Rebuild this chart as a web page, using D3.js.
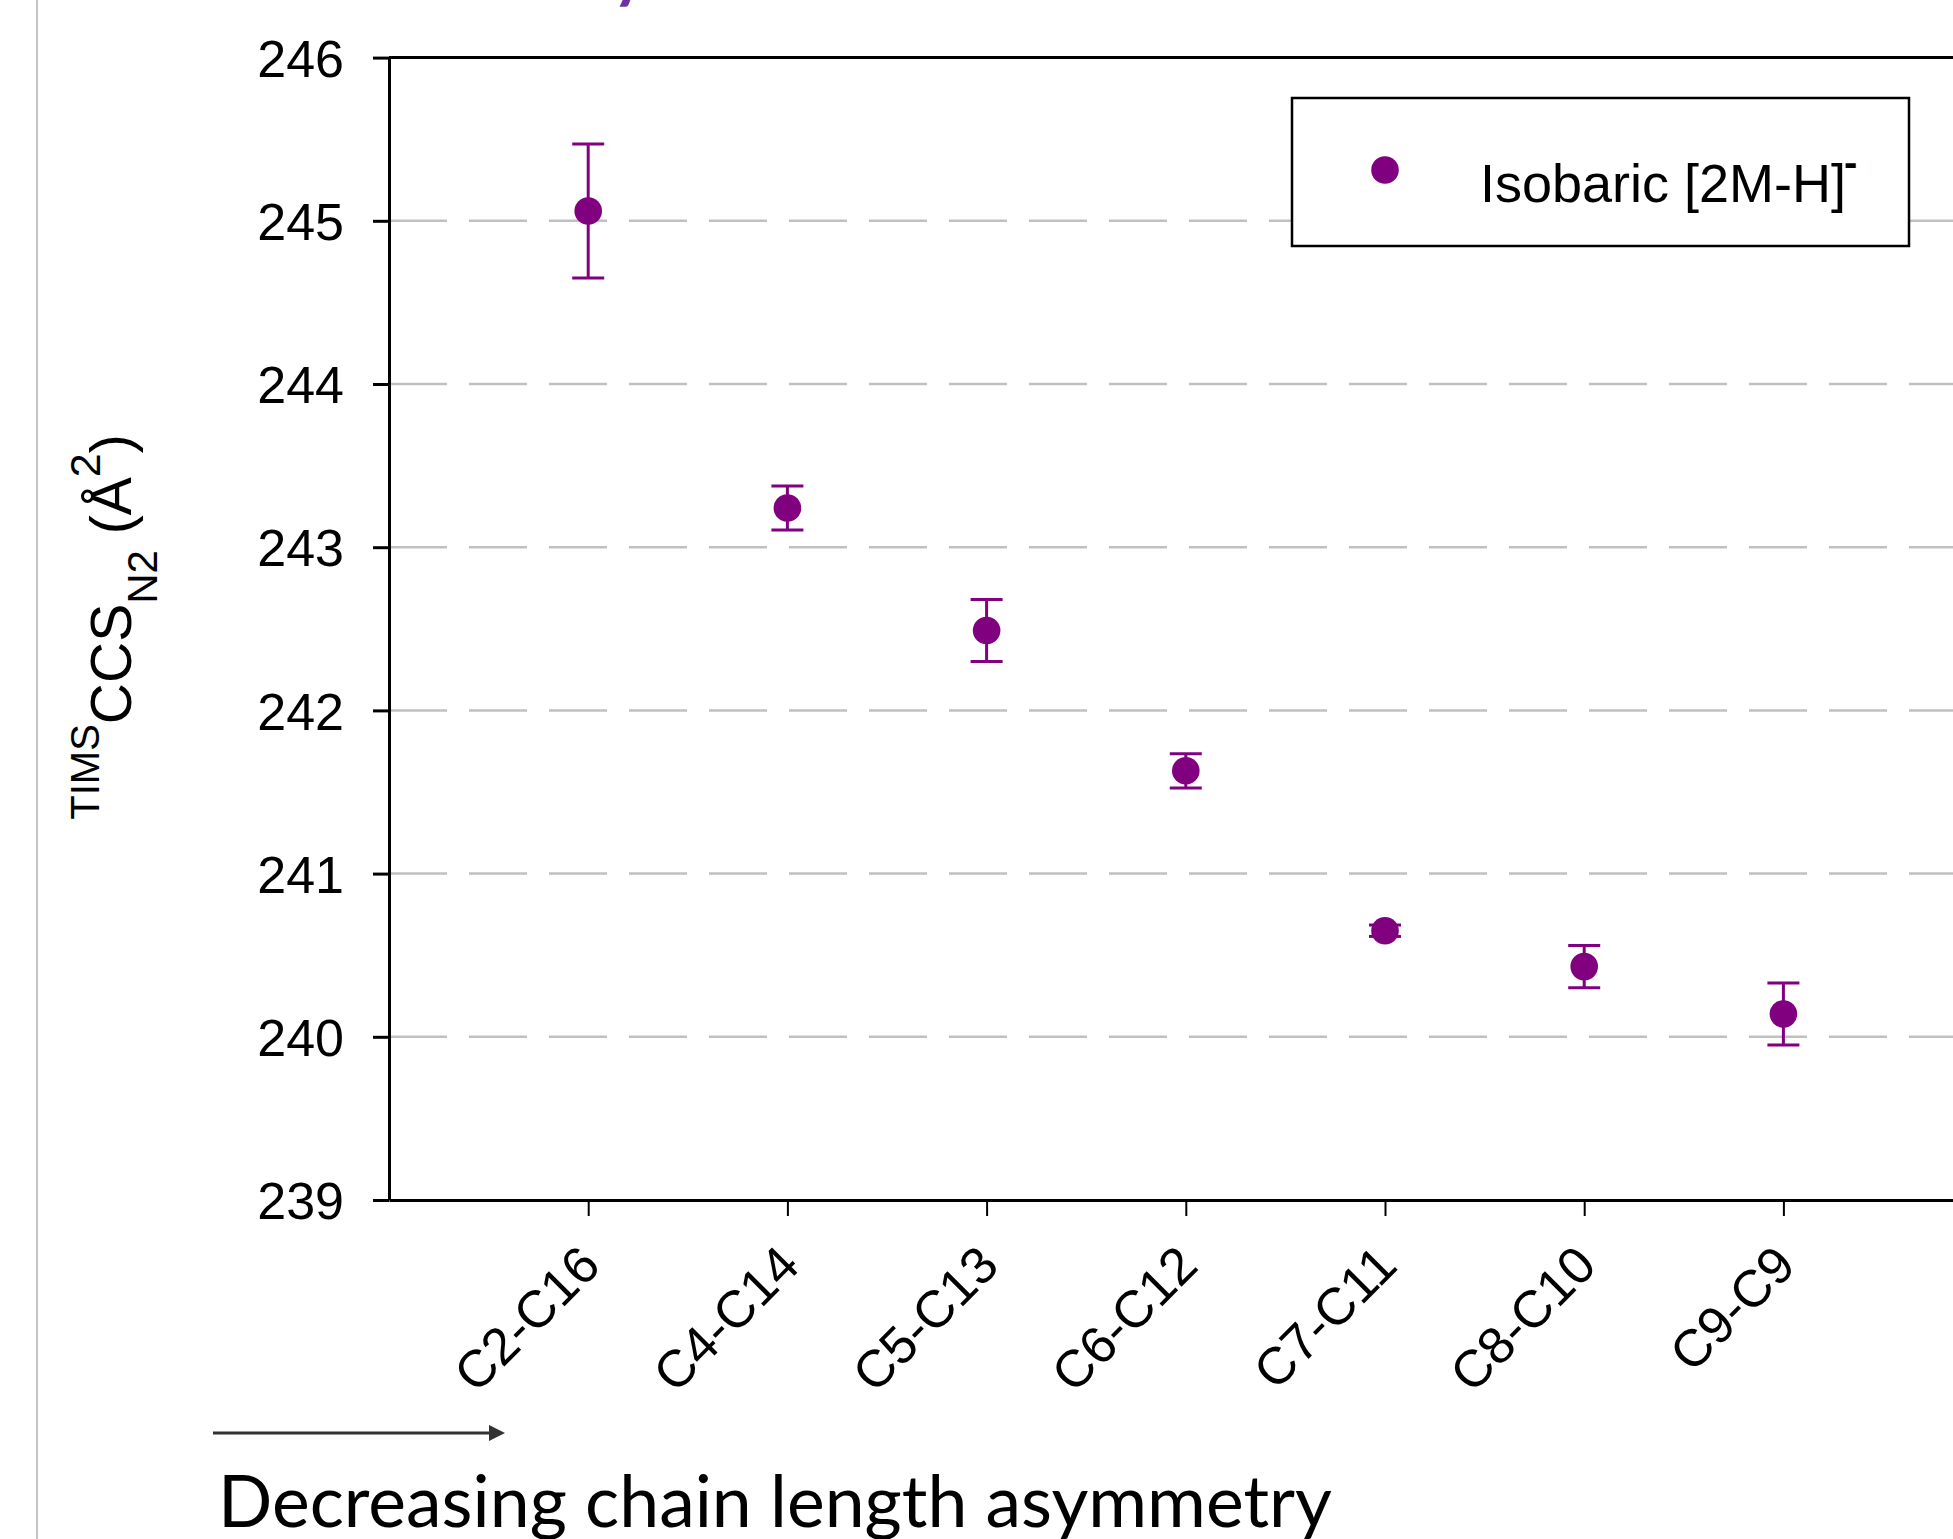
<!DOCTYPE html>
<html>
  <head>
    <script type="text/javascript" src="https://cdn.jsdelivr.net/npm/d3@7"></script>
    <style>
      body { margin: 0; background: #fff; }
    </style>
  </head>
  <body>
    <script type="text/javascript">
        // chain combinations along the x axis
        var categories = ["C2-C16", "C4-C14", "C5-C13", "C6-C12", "C7-C11", "C8-C10", "C9-C9"];
        // TIMS CCS N2 values of the [2M-H]- ions, and their error bars
        var ccsValues = [245.06, 243.24, 242.49, 241.63, 240.65, 240.43, 240.14];
        var ccsErrors = [0.41, 0.135, 0.19, 0.105, 0.035, 0.13, 0.19];
        var yTicks = [239, 240, 241, 242, 243, 244, 245, 246];
        var gridTicks = [240, 241, 242, 243, 244, 245];
        var seriesName = "Isobaric [2M-H]";

        var width = 1953, height = 1539;
        var purple = "#800080";

        var svg = d3.select("body").append("svg")
                    .attr("width", width)
                    .attr("height", height)
                    .style("display", "block");

        // frame line on the left side of the figure
        svg.append("line")
           .attr("x1", 37).attr("x2", 37)
           .attr("y1", 0).attr("y2", height)
           .style("stroke", "#c4c4c4")
           .style("stroke-width", 2);

        // bit of the title that is cut off above
        svg.append("text")
           .attr("x", 612)
           .attr("y", -5)
           .style("font-family", "Lato")
           .style("font-weight", "bold")
           .style("font-size", "66px")
           .style("fill", "#7030a0")
           .text("y");

        var x = d3.scaleLinear().domain([0, 8]).range([389, 389 + 8 * 199.2]);
        var y = d3.scaleLinear().domain([239, 246]).range([1200, 57.6]);

        // dashed gridlines
        svg.append("g").selectAll("line")
           .data(gridTicks)
           .enter()
           .append("line")
           .attr("x1", x(0))
           .attr("x2", x(8))
           .attr("y1", function(d) { return y(d); })
           .attr("y2", function(d) { return y(d); })
           .style("stroke", "#c0c0c0")
           .style("stroke-width", 2.5)
           .style("stroke-dasharray", "58,22");

        // top border of the plot area
        svg.append("line")
           .attr("x1", x(0)).attr("x2", x(8))
           .attr("y1", y(246)).attr("y2", y(246))
           .style("stroke", "#000")
           .style("stroke-width", 3);

        var yAxis = svg.append("g")
            .attr("transform", "translate(" + x(0) + ",0)")
            .call(d3.axisLeft(y).tickValues(yTicks).tickFormat(d3.format("d"))
                    .tickSize(16).tickPadding(29).tickSizeOuter(0));

        var xAxis = svg.append("g")
            .attr("transform", "translate(0," + y(239) + ")")
            .call(d3.axisBottom(x)
                    .tickValues(d3.range(1, categories.length + 1))
                    .tickFormat(function(d) { return categories[d - 1]; })
                    .tickSize(16)
                    .tickSizeOuter(0));

        svg.selectAll(".domain").style("stroke", "#000").style("stroke-width", 3);
        yAxis.selectAll(".tick line").style("stroke", "#000").style("stroke-width", 3);
        xAxis.selectAll(".tick line").style("stroke", "#000").style("stroke-width", 2);
        svg.selectAll(".tick text")
           .style("font-family", "'Liberation Sans', Arial, sans-serif")
           .style("font-size", "52px")
           .style("fill", "#000");
        yAxis.selectAll(".tick text").attr("dy", "0.36em");
        xAxis.selectAll(".tick text")
           .attr("y", 0)
           .attr("dy", 0)
           .attr("text-anchor", "end")
           .attr("transform", "translate(14,68) rotate(-45)");

        // error bars
        var bars = svg.append("g").selectAll("g")
            .data(ccsValues)
            .enter()
            .append("g")
            .style("stroke", purple)
            .style("stroke-width", 3);
        bars.append("line")
            .attr("x1", function(d, i) { return x(i + 1); })
            .attr("x2", function(d, i) { return x(i + 1); })
            .attr("y1", function(d, i) { return y(d + ccsErrors[i]); })
            .attr("y2", function(d, i) { return y(d - ccsErrors[i]); });
        [1, -1].forEach(function(s) {
            bars.append("line")
                .attr("x1", function(d, i) { return x(i + 1) - 16; })
                .attr("x2", function(d, i) { return x(i + 1) + 16; })
                .attr("y1", function(d, i) { return y(d + s * ccsErrors[i]); })
                .attr("y2", function(d, i) { return y(d + s * ccsErrors[i]); });
        });

        svg.append("g").selectAll("circle")
           .data(ccsValues)
           .enter()
           .append("circle")
           .attr("cx", function(d, i) { return x(i + 1); })
           .attr("cy", function(d) { return y(d); })
           .attr("r", 13.8)
           .style("fill", purple);

        // legend
        var legend = svg.append("g");
        legend.append("rect")
              .attr("x", 1292).attr("y", 98)
              .attr("width", 617).attr("height", 148)
              .style("fill", "#fff")
              .style("stroke", "#000")
              .style("stroke-width", 2.5);
        legend.append("circle")
              .attr("cx", 1385).attr("cy", 170).attr("r", 13.8)
              .style("fill", purple);
        var lt = legend.append("text")
              .attr("x", 1480).attr("y", 202)
              .style("font-family", "'Liberation Sans', Arial, sans-serif")
              .style("font-size", "54px")
              .style("fill", "#000");
        lt.append("tspan").text(seriesName);
        lt.append("tspan").attr("dy", -26).attr("dx", -2)
          .style("font-size", "40px").style("font-weight", "bold").text("-");

        // y axis title
        var yt = svg.append("text")
            .attr("transform", "translate(131,627) rotate(-90)")
            .attr("text-anchor", "middle")
            .style("font-family", "'Liberation Sans', Arial, sans-serif")
            .style("font-size", "57px")
            .style("fill", "#000");
        yt.append("tspan").attr("dy", -32).style("font-size", "40px").text("TIMS");
        yt.append("tspan").attr("dy", 32).text("CCS");
        yt.append("tspan").attr("dy", 26).style("font-size", "42px").text("N");
        yt.append("tspan").style("font-size", "42px").text("2");
        yt.append("tspan").attr("dy", -26).text(" (\u00c5");
        yt.append("tspan").attr("dy", -31).style("font-size", "43px").text("2");
        yt.append("tspan").attr("dy", 31).text(")");

        // arrow and caption under the axis
        svg.append("line")
           .attr("x1", 213).attr("x2", 492)
           .attr("y1", 1433).attr("y2", 1433)
           .style("stroke", "#333")
           .style("stroke-width", 3);
        svg.append("path")
           .attr("d", d3.line()([[489, 1425], [505, 1433], [489, 1441]]))
           .style("fill", "#333");
        svg.append("text")
           .attr("x", 218).attr("y", 1527)
           .style("font-family", "Lato")
           .style("font-size", "71.5px")
           .style("fill", "#000")
           .text("Decreasing chain length asymmetry");
    </script>
  </body>
</html>
